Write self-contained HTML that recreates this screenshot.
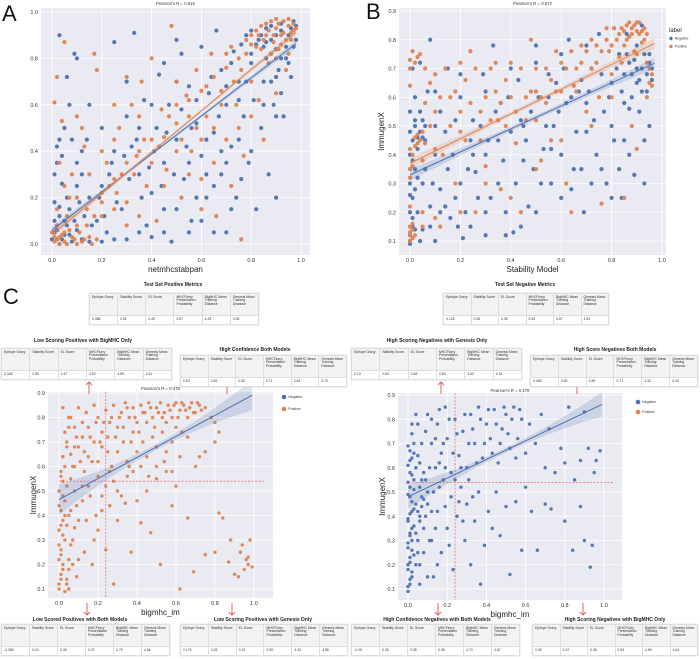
<!DOCTYPE html>
<html><head><meta charset="utf-8">
<style>
body{margin:0;background:#fff;width:700px;height:659px;overflow:hidden;position:relative;font-family:"Liberation Sans",Arial,sans-serif}
.lbl{position:absolute;font-size:22px;line-height:22px;color:#111}
.tt{position:absolute;font-size:5px;font-weight:bold;color:#222;white-space:nowrap;transform:translateX(-50%)}
table.m{position:absolute;border-collapse:collapse;background:#fff;box-shadow:0 0 1px #bbb;table-layout:fixed}
table.m td{border:0.5px solid #ddd;font-size:3.4px;line-height:3.9px;color:#333;vertical-align:top;padding:1.5px 2px}
table.m tr.h td{background:#f2f2f2}
svg{position:absolute;left:0;top:0}
</style></head><body>
<div class="lbl" style="left:2px;top:3px">A</div>
<div class="lbl" style="left:366px;top:1px">B</div>
<div class="lbl" style="left:3px;top:286px">C</div>
<svg id="s" width="700" height="659"></svg>
<script>
const A_neg=[0.02,0.02,0.05,0.04,0.08,0.01,0.1,0.06,0.03,0.12,0.01,0.18,0.04,0.26,0.02,0.35,0.03,0.45,0.05,0.5,0.07,0.6,0.03,0.9,0.09,0.82,0.1,0.8,0.06,0.72,0.12,0.3,0.15,0.2,0.14,0.45,0.18,0.1,0.2,0.25,0.22,0.05,0.25,0.87,0.24,0.35,0.28,0.15,0.3,0.55,0.32,0.42,0.33,0.91,0.35,0.3,0.37,0.62,0.38,0.08,0.4,0.22,0.42,0.5,0.43,0.73,0.45,0.35,0.47,0.6,0.48,0.01,0.5,0.45,0.52,0.82,0.53,0.28,0.55,0.68,0.56,0.1,0.58,0.52,0.6,0.38,0.6,0.85,0.62,0.2,0.63,0.65,0.65,0.48,0.66,0.92,0.68,0.3,0.68,0.75,0.7,0.6,0.7,0.05,0.72,0.42,0.73,0.83,0.74,0.2,0.75,0.7,0.77,0.55,0.78,0.9,0.79,0.35,0.8,0.78,0.81,0.62,0.82,0.15,0.83,0.88,0.84,0.5,0.85,0.7,0.86,0.93,0.87,0.3,0.88,0.82,0.89,0.6,0.9,0.9,0.9,0.2,0.91,0.75,0.92,0.95,0.93,0.55,0.94,0.85,0.95,0.9,0.96,0.72,0.97,0.96,0.98,0.88,0.85,0.85,0.8,0.92,0.76,0.86,0.92,0.8,0.88,0.94,0.5,0.7,0.45,0.15,0.35,0.5,0.25,0.4,0.15,0.6,0.55,0.35,0.65,0.05,0.4,0.03,0.3,0.02,0.12,0.02,0.06,0.08,0.01,0.05,0.03,0.0,0.07,0.15];
const A_neg_b=[0.8,0.82,0.82,0.86,0.84,0.9,0.86,0.8,0.88,0.88,0.9,0.84,0.92,0.92,0.94,0.8,0.96,0.93,0.97,0.85,0.78,0.7,0.75,0.62,0.72,0.78,0.7,0.68,0.67,0.55,0.64,0.72,0.62,0.45,0.58,0.62,0.56,0.5,0.54,0.42,0.52,0.58,0.49,0.3,0.46,0.48,0.44,0.25,0.41,0.4,0.39,0.33,0.36,0.2,0.34,0.45,0.31,0.28,0.29,0.38,0.26,0.18,0.23,0.3,0.21,0.12,0.19,0.2,0.16,0.08,0.13,0.12,0.11,0.18,0.09,0.1,0.07,0.04,0.05,0.1,0.04,0.02,0.02,0.06,0.01,0.1,0.0,0.02,0.03,0.16,0.06,0.2,0.1,0.25,0.02,0.42,0.04,0.38,0.01,0.3,0.08,0.45,0.12,0.4,0.6,0.1,0.65,0.25,0.7,0.35,0.75,0.45,0.8,0.4,0.85,0.6,0.88,0.7,0.9,0.55,0.92,0.65,0.76,0.28,0.72,0.15,0.68,0.4,0.62,0.3,0.58,0.2,0.5,0.15,0.55,0.05,0.45,0.05,0.35,0.05,0.25,0.02,0.2,0.01,0.15,0.01,0.5,0.88,0.45,0.78,0.4,0.6,0.3,0.7,0.2,0.5,0.1,0.35,0.9,0.72,0.95,0.78,0.98,0.94,0.86,0.87];
const A_pos=[0.01,0.01,0.03,0.03,0.06,0.0,0.09,0.02,0.12,0.01,0.15,0.03,0.02,0.08,0.01,0.61,0.02,0.72,0.05,0.87,0.04,0.53,0.08,0.3,0.1,0.55,0.13,0.42,0.17,0.82,0.18,0.75,0.2,0.12,0.22,0.35,0.25,0.28,0.27,0.5,0.3,0.18,0.32,0.6,0.34,0.38,0.36,0.7,0.38,0.25,0.4,0.45,0.42,0.1,0.44,0.58,0.46,0.32,0.48,0.94,0.5,0.52,0.52,0.2,0.54,0.64,0.56,0.4,0.58,0.75,0.6,0.28,0.62,0.55,0.64,0.82,0.66,0.12,0.68,0.66,0.7,0.45,0.72,0.85,0.74,0.6,0.76,0.02,0.77,0.38,0.78,0.88,0.8,0.7,0.82,0.92,0.83,0.62,0.84,0.84,0.86,0.9,0.87,0.78,0.88,0.96,0.89,0.87,0.9,0.93,0.91,0.84,0.92,0.9,0.93,0.96,0.94,0.88,0.95,0.94,0.96,0.91,0.97,0.95,0.98,0.93,0.9,0.97,0.86,0.95,0.83,0.9,0.8,0.86,0.95,0.82,0.75,0.8,0.7,0.76,0.65,0.72,0.6,0.66,0.55,0.55,0.5,0.6,0.45,0.46,0.35,0.4,0.28,0.3,0.2,0.22,0.14,0.15,0.1,0.08,0.05,0.05,0.07,0.2,0.12,0.5,0.25,0.6,0.4,0.8,0.3,0.72,0.6,0.15,0.72,0.25,0.85,0.45];
const A_pos_b=[0.85,0.88,0.87,0.92,0.89,0.9,0.91,0.95,0.93,0.91,0.95,0.97,0.97,0.92,0.96,0.88,0.92,0.86,0.88,0.82,0.84,0.94,0.82,0.85,0.8,0.9,0.78,0.82,0.76,0.75,0.73,0.7,0.7,0.82,0.68,0.6,0.65,0.5,0.62,0.68,0.58,0.5,0.55,0.62,0.52,0.45,0.5,0.4,0.47,0.55,0.43,0.42,0.4,0.35,0.37,0.45,0.33,0.3,0.3,0.35,0.26,0.22,0.23,0.25,0.2,0.18,0.17,0.12,0.14,0.08,0.11,0.05,0.08,0.03,0.05,0.01,0.03,0.0,0.02,0.02,0.04,0.04,0.07,0.06,0.1,0.0,0.13,0.02,0.16,0.0,0.18,0.02,0.01,0.03,0.0,0.05,0.02,0.15,0.05,0.25,0.03,0.35,0.06,0.12,0.1,0.2,0.15,0.3,0.2,0.4,0.25,0.15,0.3,0.08,0.35,0.12,0.45,0.25,0.55,0.3,0.65,0.35,0.75,0.5,0.8,0.55,0.9,0.65,0.94,0.75,0.9,0.8,0.6,0.45,0.5,0.7,0.35,0.55,0.25,0.45];
const B_neg=[0.0,0.09,0.0,0.12,0.01,0.15,0.0,0.2,0.01,0.25,0.0,0.3,0.02,0.35,0.0,0.4,0.01,0.45,0.02,0.5,0.0,0.55,0.03,0.42,0.04,0.48,0.05,0.52,0.06,0.45,0.03,0.2,0.05,0.14,0.07,0.62,0.08,0.8,0.09,0.3,0.1,0.1,0.12,0.55,0.14,0.22,0.15,0.7,0.17,0.4,0.19,0.15,0.2,0.6,0.21,0.11,0.23,0.35,0.25,0.52,0.27,0.25,0.29,0.68,0.3,0.12,0.31,0.45,0.33,0.78,0.35,0.3,0.36,0.58,0.38,0.2,0.4,0.48,0.41,0.13,0.43,0.66,0.45,0.38,0.47,0.22,0.48,0.55,0.5,0.72,0.52,0.3,0.54,0.5,0.56,0.42,0.58,0.65,0.6,0.25,0.62,0.58,0.63,0.8,0.65,0.35,0.67,0.62,0.69,0.2,0.7,0.48,0.72,0.7,0.74,0.4,0.75,0.82,0.77,0.55,0.78,0.3,0.8,0.65,0.81,0.45,0.83,0.75,0.84,0.25,0.85,0.58,0.86,0.82,0.87,0.4,0.88,0.68,0.89,0.33,0.9,0.78,0.91,0.55,0.92,0.7,0.93,0.3,0.94,0.62,0.95,0.75,0.96,0.66,0.95,0.5,0.92,0.85,0.9,0.65,0.87,0.72,0.85,0.68,0.93,0.45,0.8,0.5,0.7,0.58,0.55,0.6,0.45,0.5,0.35,0.45,0.25,0.4,0.15,0.35,0.1,0.5,0.05,0.3,0.02,0.6,0.01,0.7,0.04,0.72];
const B_neg_b=[0.0,0.1,0.01,0.18,0.0,0.26,0.02,0.28,0.01,0.38,0.0,0.48,0.02,0.52,0.03,0.46,0.05,0.46,0.06,0.5,0.04,0.55,0.02,0.14,0.04,0.1,0.03,0.32,0.08,0.22,0.1,0.4,0.12,0.28,0.14,0.48,0.16,0.18,0.18,0.52,0.2,0.3,0.22,0.2,0.24,0.45,0.26,0.34,0.28,0.5,0.3,0.4,0.32,0.25,0.34,0.55,0.37,0.38,0.39,0.6,0.42,0.3,0.44,0.52,0.46,0.45,0.49,0.35,0.51,0.6,0.53,0.42,0.55,0.68,0.57,0.5,0.59,0.55,0.61,0.7,0.64,0.6,0.66,0.48,0.68,0.66,0.71,0.62,0.73,0.52,0.76,0.68,0.79,0.6,0.82,0.7,0.84,0.62,0.86,0.75,0.88,0.6,0.9,0.7,0.92,0.62,0.94,0.68,0.95,0.72,0.96,0.7,0.93,0.75,0.91,0.66,0.89,0.73,0.87,0.56,0.85,0.45,0.83,0.35,0.8,0.25,0.76,0.35,0.72,0.3,0.68,0.35,0.64,0.28,0.6,0.4,0.56,0.3,0.5,0.2,0.44,0.15,0.38,0.12,0.3,0.2,0.24,0.15,0.18,0.25,0.12,0.2,0.08,0.15,0.06,0.35,0.5,0.78,0.4,0.7,0.3,0.62,0.2,0.68,0.1,0.62,0.6,0.75,0.7,0.78];
const B_pos=[0.0,0.1,0.0,0.13,0.01,0.16,0.0,0.22,0.0,0.32,0.01,0.36,0.0,0.42,0.02,0.46,0.03,0.44,0.0,0.64,0.0,0.73,0.01,0.76,0.03,0.74,0.05,0.2,0.06,0.58,0.08,0.5,0.1,0.68,0.12,0.15,0.13,0.4,0.16,0.6,0.18,0.3,0.2,0.72,0.22,0.45,0.24,0.76,0.26,0.2,0.28,0.55,0.3,0.36,0.32,0.7,0.34,0.62,0.36,0.28,0.38,0.5,0.4,0.72,0.42,0.44,0.44,0.2,0.46,0.6,0.48,0.8,0.5,0.52,0.52,0.38,0.54,0.7,0.56,0.45,0.58,0.76,0.6,0.62,0.62,0.3,0.64,0.2,0.66,0.7,0.68,0.78,0.7,0.55,0.72,0.8,0.74,0.72,0.76,0.23,0.78,0.84,0.79,0.76,0.8,0.68,0.82,0.8,0.83,0.74,0.84,0.84,0.85,0.78,0.86,0.85,0.87,0.81,0.88,0.84,0.89,0.76,0.9,0.86,0.91,0.82,0.92,0.79,0.93,0.84,0.94,0.72,0.95,0.65,0.96,0.68,0.94,0.6,0.88,0.5,0.9,0.42,0.85,0.25,0.75,0.6,0.65,0.64,0.5,0.62,0.35,0.52,0.2,0.48,0.1,0.42,0.05,0.38];
const B_pos_b=[0.0,0.12,0.01,0.11,0.0,0.15,0.01,0.14,0.02,0.12,0.0,0.35,0.01,0.4,0.02,0.43,0.03,0.47,0.04,0.45,0.05,0.48,0.06,0.44,0.0,0.7,0.02,0.72,0.04,0.75,0.06,0.7,0.08,0.65,0.1,0.55,0.12,0.6,0.14,0.7,0.16,0.5,0.18,0.62,0.2,0.55,0.22,0.66,0.24,0.58,0.26,0.7,0.28,0.45,0.3,0.6,0.32,0.52,0.34,0.72,0.36,0.58,0.38,0.66,0.4,0.6,0.42,0.55,0.44,0.7,0.46,0.52,0.48,0.62,0.5,0.7,0.52,0.6,0.54,0.58,0.56,0.66,0.58,0.62,0.6,0.72,0.62,0.7,0.64,0.76,0.66,0.62,0.68,0.72,0.7,0.76,0.72,0.7,0.74,0.78,0.76,0.76,0.78,0.8,0.8,0.78,0.81,0.84,0.83,0.82,0.85,0.83,0.86,0.8,0.87,0.86,0.88,0.82,0.89,0.85,0.9,0.83,0.91,0.86,0.92,0.83,0.93,0.8,0.94,0.82,0.95,0.7,0.96,0.64,0.9,0.75,0.84,0.72,0.8,0.6,0.72,0.5,0.6,0.45,0.5,0.35,0.4,0.25,0.3,0.3,0.2,0.2,0.1,0.18,0.05,0.15];
const C_pos=[0.02,0.84,0.05,0.8,0.08,0.76,0.1,0.84,0.12,0.78,0.14,0.82,0.16,0.72,0.18,0.85,0.2,0.8,0.22,0.74,0.24,0.83,0.26,0.78,0.28,0.85,0.3,0.76,0.32,0.82,0.34,0.86,0.36,0.8,0.38,0.84,0.4,0.78,0.42,0.85,0.44,0.82,0.46,0.86,0.48,0.8,0.5,0.84,0.52,0.86,0.54,0.82,0.56,0.85,0.58,0.8,0.6,0.86,0.62,0.83,0.64,0.85,0.66,0.8,0.68,0.86,0.7,0.82,0.72,0.85,0.75,0.84,0.78,0.8,0.8,0.78,0.04,0.7,0.06,0.65,0.08,0.6,0.1,0.68,0.13,0.58,0.15,0.64,0.18,0.7,0.2,0.62,0.22,0.68,0.25,0.72,0.27,0.6,0.3,0.66,0.33,0.7,0.35,0.62,0.38,0.74,0.4,0.66,0.43,0.7,0.45,0.64,0.48,0.72,0.5,0.68,0.53,0.74,0.55,0.66,0.58,0.7,0.6,0.76,0.63,0.74,0.66,0.72,0.7,0.6,0.72,0.64,0.75,0.66,0.8,0.7,0.82,0.74,0.0,0.1,0.01,0.14,0.02,0.18,0.0,0.22,0.01,0.26,0.03,0.3,0.0,0.34,0.02,0.38,0.01,0.42,0.03,0.46,0.0,0.5,0.02,0.54,0.01,0.58,0.04,0.36,0.05,0.22,0.06,0.42,0.07,0.3,0.08,0.5,0.09,0.15,0.1,0.38,0.12,0.46,0.13,0.25,0.15,0.52,0.17,0.2,0.19,0.4,0.2,0.34,0.22,0.48,0.24,0.26,0.26,0.44,0.28,0.54,0.3,0.38,0.32,0.48,0.35,0.56,0.37,0.25,0.4,0.46,0.42,0.37,0.45,0.5,0.47,0.33,0.5,0.55,0.52,0.2,0.55,0.58,0.58,0.44,0.6,0.52,0.62,0.1,0.66,0.39,0.69,0.17,0.75,0.24,0.8,0.25,0.82,0.41,0.84,0.39,0.87,0.21,0.88,0.3,0.9,0.16,0.92,0.15,0.93,0.25,0.94,0.28,0.95,0.18,0.96,0.22,0.97,0.2,0.98,0.3,0.99,0.19,0.97,0.23,0.28,0.12,0.36,0.6,0.04,0.12];
const C_pos_b=[0.0,0.12,0.01,0.16,0.02,0.2,0.01,0.24,0.0,0.28,0.02,0.32,0.01,0.36,0.03,0.4,0.0,0.44,0.02,0.48,0.04,0.52,0.01,0.56,0.03,0.6,0.02,0.64,0.04,0.68,0.03,0.74,0.05,0.76,0.04,0.14,0.05,0.18,0.06,0.28,0.07,0.2,0.05,0.4,0.06,0.55,0.07,0.6,0.08,0.68,0.09,0.72,0.06,0.8,0.11,0.62,0.12,0.72,0.13,0.66,0.15,0.76,0.17,0.62,0.19,0.78,0.21,0.7,0.23,0.78,0.25,0.66,0.27,0.8,0.29,0.72,0.31,0.8,0.33,0.76,0.35,0.84,0.37,0.7,0.39,0.8,0.41,0.74,0.43,0.82,0.45,0.78,0.47,0.84,0.49,0.76,0.51,0.82,0.53,0.8,0.55,0.78,0.57,0.83,0.59,0.85,0.61,0.8,0.63,0.86,0.65,0.83,0.67,0.84,0.69,0.82,0.71,0.86,0.73,0.83,0.12,0.52,0.14,0.38,0.16,0.48,0.18,0.3,0.2,0.56,0.22,0.42,0.24,0.52,0.26,0.58,0.3,0.5,0.34,0.45,0.38,0.58,0.42,0.6,0.46,0.56,0.5,0.6,0.54,0.62,0.58,0.58,0.62,0.64,0.1,0.22,0.08,0.35,0.09,0.44,0.03,0.09,0.05,0.1];
const C_neg=[0.0,0.09,0.01,0.12,0.02,0.15,0.0,0.18,0.01,0.21,0.03,0.24,0.0,0.27,0.02,0.3,0.01,0.33,0.03,0.36,0.0,0.39,0.02,0.42,0.04,0.45,0.01,0.48,0.03,0.51,0.0,0.54,0.02,0.57,0.04,0.6,0.01,0.63,0.03,0.66,0.0,0.69,0.02,0.74,0.05,0.78,0.06,0.4,0.07,0.44,0.05,0.3,0.06,0.2,0.07,0.55,0.05,0.65,0.08,0.35,0.06,0.12,0.08,0.47,0.1,0.82,0.12,0.7,0.14,0.6,0.15,0.78,0.17,0.66,0.19,0.85,0.2,0.72,0.22,0.58,0.24,0.8,0.26,0.65,0.28,0.75,0.3,0.6,0.32,0.82,0.34,0.7,0.36,0.85,0.38,0.64,0.4,0.78,0.42,0.72,0.44,0.84,0.46,0.62,0.48,0.76,0.5,0.82,0.52,0.68,0.54,0.85,0.56,0.72,0.58,0.8,0.6,0.66,0.62,0.78,0.65,0.7,0.68,0.82,0.7,0.6,0.72,0.76,0.75,0.58,0.78,0.68,0.8,0.62,0.82,0.85,0.85,0.55,0.88,0.63,0.9,0.83,0.92,0.68,0.95,0.58,0.98,0.67,0.96,0.63,0.1,0.5,0.12,0.3,0.13,0.15,0.15,0.42,0.17,0.25,0.18,0.55,0.2,0.35,0.22,0.48,0.23,0.18,0.25,0.4,0.27,0.52,0.29,0.3,0.3,0.45,0.32,0.2,0.34,0.38,0.36,0.5,0.37,0.12,0.39,0.28,0.41,0.42,0.43,0.35,0.45,0.5,0.47,0.32,0.5,0.44,0.52,0.16,0.55,0.46,0.58,0.26,0.6,0.52,0.63,0.42,0.66,0.26,0.7,0.45,0.73,0.43,0.8,0.38,0.84,0.26,0.88,0.44,0.9,0.3,0.93,0.19,0.94,0.28];
const C_neg_b=[0.0,0.11,0.01,0.14,0.02,0.17,0.0,0.2,0.01,0.23,0.02,0.26,0.0,0.29,0.01,0.32,0.02,0.35,0.0,0.38,0.01,0.41,0.03,0.43,0.02,0.46,0.0,0.49,0.01,0.52,0.03,0.55,0.01,0.58,0.0,0.61,0.02,0.64,0.01,0.67,0.03,0.7,0.02,0.78,0.04,0.82,0.04,0.2,0.05,0.25,0.04,0.33,0.06,0.38,0.05,0.42,0.07,0.48,0.06,0.52,0.08,0.58,0.06,0.62,0.07,0.7,0.09,0.75,0.08,0.25,0.09,0.4,0.1,0.45,0.11,0.6,0.12,0.8,0.13,0.5,0.14,0.72,0.16,0.62,0.16,0.84,0.18,0.7,0.19,0.6,0.21,0.8,0.23,0.66,0.25,0.74,0.27,0.6,0.29,0.82,0.31,0.7,0.33,0.76,0.35,0.62,0.37,0.8,0.39,0.7,0.41,0.84,0.43,0.66,0.45,0.78,0.47,0.7,0.49,0.85,0.51,0.74,0.53,0.8,0.55,0.64,0.57,0.84,0.11,0.3,0.14,0.35,0.16,0.52,0.19,0.44,0.21,0.28,0.24,0.55,0.26,0.46,0.28,0.38,0.31,0.55,0.33,0.48,0.12,0.42,0.15,0.2,0.1,0.15,0.09,0.55];
const A_fit_neg=[0.06,0.82], A_fit_pos=[0.04,0.89];
const B_fit_neg=[0.33,0.40], B_fit_pos=[0.37,0.43];
const C_fit_pos=[0.465,0.43], C_fit_neg=[0.48,0.385];
const ticks01=["0.0","0.2","0.4","0.6","0.8","1.0"];
const ticks19=["0.1","0.2","0.3","0.4","0.5","0.6","0.7","0.8","0.9"];
const hdrs=["Epitope Gravy","Stability Score","EL Score","MHCFlurry Presentation Probability","BigMHC Mean Training Distance","Genesis Mean Training Distance"];
const T_testpos=["0.386","0.51","0.45","0.57","4.33","4.28"];
const T_testneg=["0.128","0.45","0.38","0.53","4.57","4.53"];
const T_lowPosBig=["0.345","0.55","0.47","0.52","4.69","4.61"];
const T_highConfBoth=["0.63","0.69","0.59","0.71","3.63","3.70"];
const T_highNegGen=["0.13","0.64","0.48","0.60","4.60","4.33"];
const T_highNegBoth=["0.495","0.69","0.59","0.71","4.33","4.30"];
const T_lowPosBoth=["-0.085","0.24","0.35","0.37","4.79","4.86"];
const T_lowPosGen=["0.175","0.26","0.31","0.50","4.43","4.58"];
const T_highConfNeg=["-0.05","0.26","0.35","0.38","4.70","4.67"];
const T_highNegBig=["0.05","0.22","0.35","0.54","4.69","4.64"];

const NS="http://www.w3.org/2000/svg", S=document.getElementById('s');
const BLUE="#4c72b0", ORANGE="#dd8452";
function el(t,a,p){const e=document.createElementNS(NS,t);for(const k in a)e.setAttribute(k,a[k]);(p||S).appendChild(e);return e;}
function txt(x,y,s,sz,anchor,p,extra){const e=el('text',Object.assign({x:x,y:y,'font-size':sz,'text-anchor':anchor||'middle',fill:'#333','font-family':'Liberation Sans, Arial, sans-serif'},extra||{}),p);e.textContent=s;return e;}

function panel(id,c){
  const g=el('g',{});
  
  
  const sx=v=>c.px0+(v-c.xd0)/(c.xd1-c.xd0)*(c.px1-c.px0);
  const sy=v=>c.py0+(v-c.yd0)/(c.yd1-c.yd0)*(c.py1-c.py0);
  el('rect',{x:c.bx0,y:c.by0,width:c.bx1-c.bx0,height:c.by1-c.by0,fill:'#eaeaf2'},g);
  c.xt.forEach(t=>{const v=parseFloat(t),x=sx(v);
    el('line',{x1:x,x2:x,y1:c.by0,y2:c.by1,stroke:'#fff','stroke-width':0.8},g);
    const e=txt(x,c.by1+7,t,5.5,'middle',g);
    
    });
  c.yt.forEach(t=>{const v=parseFloat(t),y=sy(v);
    el('line',{x1:c.bx0,x2:c.bx1,y1:y,y2:y,stroke:'#fff','stroke-width':0.8},g);
    const e=txt(c.bx0-3,y+2,t,5.5,'end',g);
    
    });
  c.series.forEach(s=>{
    const sg=el('g',{},g);
    
    
    for(let i=0;i<s.pts.length;i+=2){
      const d=el('circle',{cx:sx(s.pts[i]),cy:sy(s.pts[i+1]),r:c.r||2,fill:s.col,opacity:0.95},sg);
      
      
    }
  });
  if(c.dash){
    const v=el('line',{x1:sx(c.dash[0]),x2:sx(c.dash[0]),y1:c.by0,y2:c.by1,stroke:'#e05555','stroke-width':0.6,'stroke-dasharray':'2,1.5'},g);
    
    const h=el('line',{x1:sx(0),x2:sx(1.05),y1:sy(c.dash[1]),y2:sy(c.dash[1]),stroke:'#e05555','stroke-width':0.6,'stroke-dasharray':'2,1.5'},g);
    
  }
  c.fits.forEach(f=>{
    const xa=f.x0,xb=f.x1,m=(xa+xb)/2,n=20,up=[],dn=[];
    for(let i=0;i<=n;i++){const x=xa+(xb-xa)*i/n,y=f.k[0]+f.k[1]*x,w=f.w0+f.w1*Math.pow((x-m)/(xb-xa),2)*4;
      up.push(sx(x)+','+sy(y+w));dn.unshift(sx(x)+','+sy(y-w));}
    const b=el('polygon',{points:up.concat(dn).join(' '),fill:f.col,opacity:0.2},g);
    
    const l=el('line',{x1:sx(xa),y1:sy(f.k[0]+f.k[1]*xa),x2:sx(xb),y2:sy(f.k[0]+f.k[1]*xb),stroke:f.col,'stroke-width':1},g);
    
  });
  const t=txt((c.bx0+c.bx1)/2,c.titleY,c.title,4.3,'middle',g);
  
  const xl=txt((c.bx0+c.bx1)/2,c.by1+17,c.xlabel,8,'middle',g,{fill:'#222'});
  
  if(c.ylabel){const yx=c.ylx,yy=(c.by0+c.by1)/2;
    const yl=txt(yx,yy,c.ylabel,8,'middle',g,{fill:'#222',transform:'rotate(-90 '+yx+' '+yy+')'});
    }
  if(c.legend){const L=c.legend;
    if(L.title){const lt=txt(L.x,L.y,L.title,6,'start',g,{fill:'#222'});}
    L.items.forEach((it,i)=>{const y=L.y0+i*L.dy;
      const lg=el('g',{},g);
      el('circle',{cx:L.x+2,cy:y,r:L.r,fill:it[1]},lg);txt(L.x+2+L.r+2,y+1,it[0],3.5,'start',lg);});
  }
}

panel('panel-a',{px0:52,px1:301,xd0:0,xd1:1,py0:244,py1:12,yd0:0,yd1:1,bx0:41,bx1:310,by0:8,by1:255,
  xt:ticks01,yt:ticks01,title:"Pearson's R = 0.815",titleY:5,xlabel:"netmhcstabpan",r:2.1,
  series:[{name:'negative-points',pts:A_neg.concat(A_neg_b),col:BLUE},{name:'positive-points',pts:A_pos.concat(A_pos_b),col:ORANGE}],
  fits:[{k:A_fit_neg,x0:0,x1:0.98,col:BLUE,w0:0.006,w1:0.01},{k:A_fit_pos,x0:0,x1:0.98,col:ORANGE,w0:0.006,w1:0.01}]});
panel('panel-b',{px0:410,px1:662,xd0:0,xd1:1,py0:241,py1:11,yd0:0.1,yd1:0.9,bx0:399,bx1:666,by0:8,by1:255,
  xt:ticks01,yt:ticks19,title:"Pearson's R = 0.672",titleY:5,xlabel:"Stability Model",ylabel:"ImmugenX",ylx:384,r:2.1,
  series:[{name:'negative-points',pts:B_neg.concat(B_neg_b),col:BLUE},{name:'positive-points',pts:B_pos.concat(B_pos_b),col:ORANGE}],
  fits:[{k:B_fit_neg,x0:0,x1:0.97,col:BLUE,w0:0.008,w1:0.012},{k:B_fit_pos,x0:0,x1:0.97,col:ORANGE,w0:0.008,w1:0.012}],
  legend:{x:669,y:32,title:'label',y0:38.5,dy:8,r:1.7,items:[['Negative',BLUE],['Positive',ORANGE]]}});
panel('panel-c-left',{px0:59,px1:254,xd0:0,xd1:1,py0:589,py1:393,yd0:0.1,yd1:0.9,bx0:48,bx1:273,by0:392,by1:598,
  xt:ticks01,yt:ticks19,title:"Pearson's R = 0.478",titleY:390,xlabel:"bigmhc_im",ylabel:"ImmugenX",ylx:36,r:1.7,dash:[0.24,0.54],
  series:[{name:'positive-points',pts:C_pos.concat(C_pos_b),col:ORANGE}],
  fits:[{k:C_fit_pos,x0:0,x1:0.99,col:BLUE,w0:0.012,w1:0.05}],
  legend:{x:282,y0:397,dy:12,r:2.3,items:[['Negative',BLUE],['Positive',ORANGE]]}});
panel('panel-c-right',{px0:408,px1:604,xd0:0,xd1:1,py0:589,py1:395,yd0:0.1,yd1:0.9,bx0:398,bx1:622,by0:393,by1:600,
  xt:ticks01,yt:ticks19,title:"Pearson's R = 0.478",titleY:392,xlabel:"bigmhc_im",ylabel:"ImmugenX",ylx:385,r:1.7,dash:[0.24,0.54],
  series:[{name:'negative-points',pts:C_neg.concat(C_neg_b),col:BLUE}],
  fits:[{k:C_fit_neg,x0:0,x1:0.99,col:BLUE,w0:0.01,w1:0.04}],
  legend:{x:636,y0:402,dy:10,r:2.3,items:[['Negative',BLUE],['Positive',ORANGE]]}});

[[89,394,-1],[227,394,-1],[441,394,-1],[577,394,-1],[87,603,1],[232,603,1],[438,603,1],[583,603,1]].forEach(a=>{
  const g=el('g',{stroke:'#e06060','stroke-width':1,fill:'none'});
  
  
  const [x,y,d]=a, y2=y+d*12;
  el('line',{x1:x,y1:y,x2:x,y2:y2},g);
  el('polyline',{points:(x-3)+','+(y2-d*3)+' '+x+','+y2+' '+(x+3)+','+(y2-d*3)},g);
});

function table(name,title,tx,ty,x,y,w,vals){
  const t=document.createElement('div');t.className='tt';t.style.left=tx+'px';t.style.top=ty+'px';t.textContent=title;
  
  
  document.body.appendChild(t);
  const tb=document.createElement('table');tb.className='m';tb.style.left=x+'px';tb.style.top=y+'px';tb.style.width=w+'px';
  
  
  tb.innerHTML='<tr class="h" style="height:22px">'+hdrs.map(s=>'<td>'+s+'</td>').join('')+'</tr><tr style="height:9px">'+vals.map(s=>'<td>'+s+'</td>').join('')+'</tr>';
  document.body.appendChild(tb);
}
table('test-positive',"Test Set Positive Metrics",173,282,89,293,170,T_testpos);
table('test-negative',"Test Set Negative Metrics",525,282,443,293,166,T_testneg);
table('low-pos-bigmhc',"Low Scoring Positives with BigMHC Only",83,338,1,348,171,T_lowPosBig);
table('high-conf-both',"High Confidence Both Models",255,347,180,355,167,T_highConfBoth);
table('high-neg-genesis',"High Scoring Negatives with Genesis Only",437,338,351,348,171,T_highNegGen);
table('high-neg-both',"High Score Negatives Both Models",615,347,530,355,168,T_highNegBoth);
table('low-pos-both',"Low Scored Positives with Both Models",80,617,1,624,169,T_lowPosBoth);
table('low-pos-genesis',"Low Scoring Positives with Genesis Only",263,617,180,624,168,T_lowPosGen);
table('high-conf-neg',"High Confidence Negatives with Both Models",437,617,351,624,169,T_highConfNeg);
table('high-neg-bigmhc',"High Scoring Negatives with BigMHC Only",615,617,532,624,166,T_highNegBig);
</script>
</body></html>
